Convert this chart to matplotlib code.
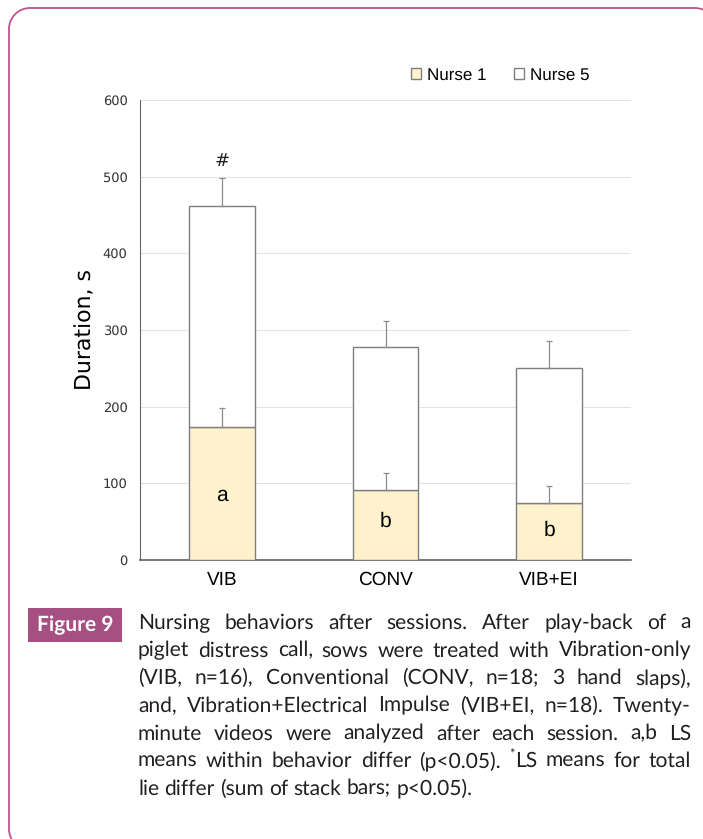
import numpy as np
import matplotlib.pyplot as plt
from matplotlib.patches import PathPatch, Rectangle
from matplotlib.path import Path
from matplotlib.transforms import Affine2D

plt.rcParams["text.hinting"] = "no_hinting"
plt.rcParams["text.hinting_factor"] = 1

W, H = 703, 839

groups = ["VIB", "CONV", "VIB+EI"]
nurse1 = [174, 91, 75]
nurse1_se = [24, 23, 22]
nurse5 = [288, 187, 175]
total_se = [36, 34, 35]
letters = ["a", "b", "b"]
letter_y = [84, 50, 39]
total_marks = ["#", "", ""]
mark_y = 521

caption_tag = "Figure 9"
caption_lines = [
    "Nursing behaviors after sessions. After play-back of a",
    "piglet distress call, sows were treated with Vibration-only",
    "(VIB, n=16), Conventional (CONV, n=18; 3 hand slaps),",
    "and, Vibration+Electrical Impulse (VIB+EI, n=18). Twenty-",
    "minute videos were analyzed after each session. a,b LS",
    "means within behavior differ (p<0.05). *LS means for total",
    "lie differ (sum of stack bars; p<0.05).",
]


def fx(x):
    return x / W


def fy(y):
    return 1 - y / H


fig = plt.figure(figsize=(W / 100, H / 100), dpi=100)

# Page frame: open outline in image pixels (y down), right and bottom run off
px_to_fig = Affine2D().scale(1 / W, -1 / H).translate(0, 1) + fig.transFigure
x0, y0, x1, y1, r = 9, 8, 716, 850, 21
k = 0.5523 * r
verts = [
    (x1, 820), (x1, y0 + r),
    (x1, y0 + r - k), (x1 - r + k, y0), (x1 - r, y0),
    (x0 + r, y0),
    (x0 + r - k, y0), (x0, y0 + r - k), (x0, y0 + r),
    (x0, y1 - r),
    (x0, y1 - r + k), (x0 + r - k, y1), (x0 + r, y1),
    (x1 - r, y1),
]
codes = [Path.MOVETO, Path.LINETO,
         Path.CURVE4, Path.CURVE4, Path.CURVE4,
         Path.LINETO,
         Path.CURVE4, Path.CURVE4, Path.CURVE4,
         Path.LINETO,
         Path.CURVE4, Path.CURVE4, Path.CURVE4,
         Path.LINETO]
fig.add_artist(PathPatch(Path(verts, codes), transform=px_to_fig,
                         fc="none", ec="#c0538f", lw=1.3))

# Stacked bar chart
ax = fig.add_axes([fx(140), fy(560), (631 - 140) / W, (560 - 100) / H])
x = np.arange(len(groups))
tops = np.add(nurse1, nurse5)
ax.bar(x, nurse1, 0.4, color="#fff2cc", edgecolor="#7f7f7f", lw=1,
       label="Nurse 1", zorder=3)
ax.bar(x, nurse5, 0.4, bottom=nurse1, color="white", edgecolor="#7f7f7f",
       lw=1, label="Nurse 5", zorder=3)
ax.errorbar(x, nurse1, yerr=[np.zeros(len(x)), nurse1_se], fmt="none",
            ecolor="#8c8c8c", elinewidth=0.9, capsize=2, capthick=0.9,
            zorder=4)
ax.errorbar(x, tops, yerr=[np.zeros(len(x)), total_se], fmt="none",
            ecolor="#8c8c8c", elinewidth=0.9, capsize=2, capthick=0.9,
            zorder=4)

for i in x:
    ax.text(i, letter_y[i], letters[i], ha="center", va="center",
            fontsize=15, family="Liberation Sans", zorder=5)
    if total_marks[i]:
        ax.text(i, mark_y, total_marks[i], ha="center", va="center",
                fontsize=13, family="DejaVu Sans", color="#222222")

ax.set_xlim(-0.5, 2.5)
ax.set_ylim(0, 600)
ax.set_yticks(range(0, 601, 100))
ax.set_xticks(x)
ax.set_xticklabels(groups, fontsize=13.5, family="Liberation Sans")
for lab in ax.get_yticklabels():
    lab.set_fontsize(9.5)
    lab.set_color("#333333")
ax.tick_params(axis="both", length=0)
ax.tick_params(axis="y", pad=9)
ax.tick_params(axis="x", pad=8)
ax.yaxis.grid(True, color="#e3e3e3", lw=0.8)
ax.set_axisbelow(True)
for side in ["top", "right"]:
    ax.spines[side].set_visible(False)
ax.spines["left"].set_color("#666666")
ax.spines["bottom"].set_color("#555555")
ax.spines["bottom"].set_linewidth(1.1)
ax.set_ylabel("Duration, s", fontsize=15.5, labelpad=5)

fig.legend(loc="center", bbox_to_anchor=(fx(500), fy(75)), ncol=2,
           frameon=False, handlelength=0.6, handleheight=0.6,
           handletextpad=0.3, columnspacing=1.6,
           prop={"family": "Liberation Sans", "size": 12.5})

# Caption tag
fig.add_artist(Rectangle((fx(28), fy(642)), (122 - 28) / W, (642 - 608) / H,
                         transform=fig.transFigure, fc="#a64f82", ec="none"))
fig.text(fx(75), fy(625), caption_tag, ha="center", va="center",
         color="white", fontsize=15, weight="bold", family="Lato")

# Justified caption text
renderer = fig.canvas.get_renderer()
cap_left, cap_right = 138, 691
avail = cap_right - cap_left


def text_width(s, size):
    t = fig.text(0, 0, s, fontsize=size, family="Lato")
    w = t.get_window_extent(renderer).width
    t.remove()
    return w


def word_width(word, size):
    if word.startswith("*"):
        return text_width("*", size * 0.6) + text_width(word[1:], size)
    return text_width(word, size)


size = 15.0
while True:
    space = text_width("a a", size) - text_width("aa", size)
    need = max(sum(word_width(w, size) for w in ln.split())
               + (len(ln.split()) - 1) * space * 0.6
               for ln in caption_lines[:-1])
    if need <= avail or size < 10:
        break
    size -= 0.25

for k_line, line in enumerate(caption_lines):
    words = line.split()
    widths = [word_width(w, size) for w in words]
    if k_line < len(caption_lines) - 1:
        gap = (avail - sum(widths)) / (len(words) - 1)
    else:
        gap = space
    base = 629 + 27.6 * k_line
    xpos = cap_left
    for w, wd in zip(words, widths):
        if w.startswith("*"):
            sw = text_width("*", size * 0.6)
            fig.text(fx(xpos), fy(base - 8), "*", fontsize=size * 0.6,
                     family="Lato", color="#231f20", va="baseline")
            fig.text(fx(xpos + sw), fy(base), w[1:], fontsize=size,
                     family="Lato", color="#231f20", va="baseline")
        else:
            fig.text(fx(xpos), fy(base), w, fontsize=size, family="Lato",
                     color="#231f20", va="baseline")
        xpos += wd + gap

fig.savefig("out.png", dpi=100)
